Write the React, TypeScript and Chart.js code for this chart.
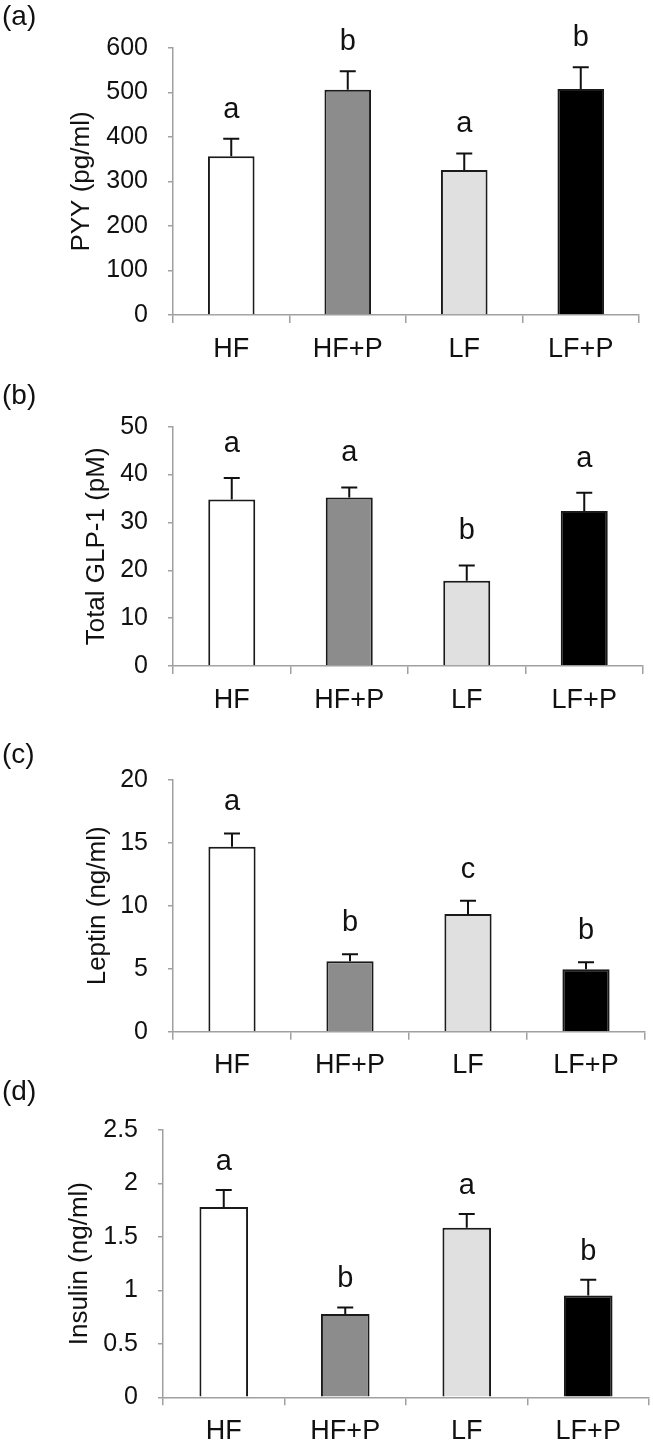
import React, { useEffect, useRef } from "react";
import { Chart, registerables } from "chart.js";

Chart.register(...registerables);

const categories = ["HF", "HF+P", "LF", "LF+P"];
const barColors = ["#ffffff", "#8c8c8c", "#e0e0e0", "#000000"];

const pyyValues = [357, 506, 326, 508];
const pyyErrors = [39, 42, 37, 49];
const pyyLetters = ["a", "b", "a", "b"];

const glpValues = [34.8, 35.2, 17.8, 32.4];
const glpErrors = [4.5, 2.1, 3.2, 3.8];
const glpLetters = ["a", "a", "b", "a"];

const leptinValues = [14.7, 5.6, 9.36, 4.96];
const leptinErrors = [1.05, 0.55, 1.04, 0.55];
const leptinLetters = ["a", "b", "c", "b"];

const insulinValues = [1.78, 0.78, 1.585, 0.953];
const insulinErrors = [0.16, 0.06, 0.13, 0.147];
const insulinLetters = ["a", "b", "a", "b"];

const FONT = '"Liberation Sans", Arial, sans-serif';

const annotPlugin = {
  id: "annot",
  afterDatasetsDraw(chart: any, _args: any, opts: any) {
    const { ctx } = chart;
    const meta = chart.getDatasetMeta(0);
    const y = chart.scales.y;
    ctx.save();
    meta.data.forEach((bar: any, i: number) => {
      const v = opts.values[i];
      const e = opts.errors[i];
      const yTop = y.getPixelForValue(v + e);
      const yBar = y.getPixelForValue(v);
      ctx.strokeStyle = "#111";
      ctx.lineWidth = 2;
      ctx.beginPath();
      ctx.moveTo(bar.x, yBar);
      ctx.lineTo(bar.x, yTop);
      ctx.moveTo(bar.x - 8, yTop);
      ctx.lineTo(bar.x + 8, yTop);
      ctx.stroke();
      ctx.font = `29px ${FONT}`;
      ctx.textAlign = "center";
      ctx.textBaseline = "alphabetic";
      ctx.fillStyle = "#111";
      ctx.fillText(opts.letters[i], bar.x, yTop - opts.gap);
    });
    ctx.font = `28px ${FONT}`;
    ctx.textAlign = "left";
    ctx.textBaseline = "middle";
    ctx.fillStyle = "#111";
    ctx.fillText(opts.panel, 2, opts.panelY);
    ctx.restore();
  },
};

type PanelProps = {
  top: number;
  height: number;
  panel: string;
  panelY: number;
  values: number[];
  errors: number[];
  letters: string[];
  yTitle: string;
  max: number;
  step: number;
  padTop: number;
  axisH: number;
  left: number;
  rightPad: number;
  titlePad: number;
  gap: number;
};

function Panel(p: PanelProps) {
  const ref = useRef<HTMLCanvasElement>(null);
  useEffect(() => {
    if (!ref.current) return;
    const chart = new Chart(ref.current, {
      type: "bar",
      data: {
        labels: categories,
        datasets: [
          {
            data: p.values,
            backgroundColor: barColors,
            borderColor: "#1a1a1a",
            borderWidth: 2,
            barPercentage: 0.4,
            categoryPercentage: 1,
          },
        ],
      },
      options: {
        responsive: false,
        animation: false,
        layout: { padding: { top: p.padTop, right: p.rightPad, left: 0, bottom: 0 } },
        plugins: {
          legend: { display: false },
          tooltip: { enabled: false },
          annot: {
            values: p.values,
            errors: p.errors,
            letters: p.letters,
            panel: p.panel,
            panelY: p.panelY,
            gap: p.gap,
          },
        } as any,
        scales: {
          x: {
            grid: { offset: true, drawOnChartArea: false, drawTicks: true, tickLength: 8, color: "#a0a0a0", lineWidth: 1.5 },
            border: { color: "#a0a0a0", width: 1.5 },
            ticks: { color: "#111", font: { family: FONT, size: 27 }, padding: 10 },
            afterFit: (s: any) => {
              s.height = p.axisH;
            },
          },
          y: {
            min: 0,
            max: p.max,
            grid: { drawOnChartArea: false, drawTicks: true, tickLength: 5, color: "#a0a0a0", lineWidth: 1.5 },
            border: { color: "#a0a0a0", width: 1.5 },
            ticks: {
              stepSize: p.step,
              color: "#111",
              font: { family: FONT, size: 25 },
              padding: 20,
              callback: (v: any) => String(Math.round(Number(v) * 100) / 100),
            },
            title: {
              display: true,
              text: p.yTitle,
              color: "#111",
              font: { family: FONT, size: 26 },
              padding: { top: p.titlePad, bottom: 0 },
            },
            afterFit: (s: any) => {
              s.width = p.left;
            },
          },
        },
      },
      plugins: [annotPlugin],
    });
    return () => chart.destroy();
  }, []);
  return (
    <canvas
      ref={ref}
      width={653}
      height={p.height}
      style={{ position: "absolute", left: 0, top: p.top, width: 653, height: p.height }}
    />
  );
}

export default function App() {
  return (
    <div style={{ position: "absolute", left: 0, top: 0, width: 653, height: 1443, background: "#fff", overflow: "hidden" }}>
      <Panel top={0} height={360} panel="(a)" panelY={17} values={pyyValues} errors={pyyErrors} letters={pyyLetters}
        yTitle="PYY (pg/ml)" max={600} step={100} padTop={48} axisH={45} left={173} rightPad={14} titlePad={66} gap={21} />
      <Panel top={360} height={360} panel="(b)" panelY={36} values={glpValues} errors={glpErrors} letters={glpLetters}
        yTitle="Total GLP-1 (pM)" max={50} step={10} padTop={66.7} axisH={54} left={173} rightPad={10} titlePad={81} gap={26} />
      <Panel top={720} height={355} panel="(c)" panelY={35} values={leptinValues} errors={leptinErrors} letters={leptinLetters}
        yTitle="Leptin (ng/ml)" max={20} step={5} padTop={60} axisH={43.3} left={173} rightPad={8} titlePad={82} gap={23} />
      <Panel top={1075} height={368} panel="(d)" panelY={17} values={insulinValues} errors={insulinErrors} letters={insulinLetters}
        yTitle="Insulin (ng/ml)" max={2.5} step={0.5} padTop={55} axisH={45.7} left={163} rightPad={4} titlePad={64} gap={20} />
    </div>
  );
}
